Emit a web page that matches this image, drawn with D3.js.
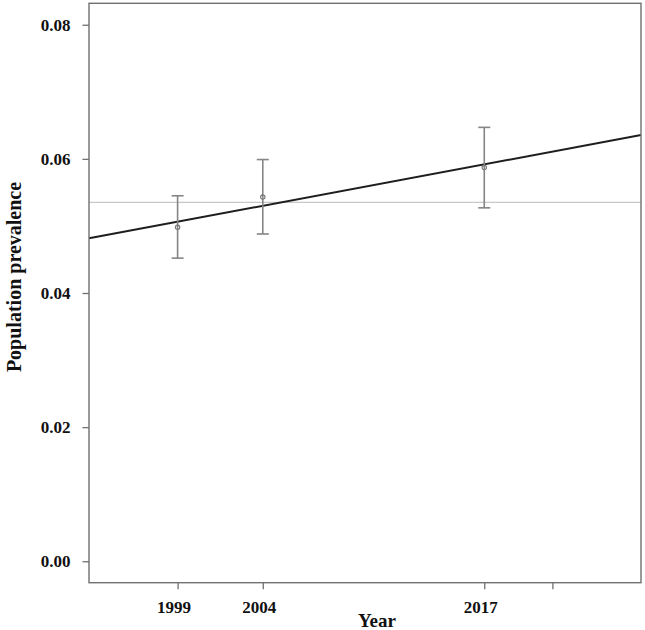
<!DOCTYPE html>
<html>
<head>
<meta charset="utf-8">
<script src="https://cdn.jsdelivr.net/npm/d3@7"></script>
<style>
  html, body { margin: 0; padding: 0; background: #fff; }
  svg { display: block; }
  text { font-family: "Liberation Serif", "Times New Roman", serif; font-weight: bold; fill: #111; }
</style>
</head>
<body>
<svg id="chart" width="645" height="630"></svg>
<script>
// ---- data ----
const years = [1999, 2004, 2017];
const prevalence = [0.0498, 0.0543, 0.0587];
const ciLower = [0.0452, 0.0488, 0.0527];
const ciUpper = [0.0545, 0.0599, 0.0647];
const referenceLevel = 0.0535;
const trendBaseYear = 2000;
const trendBaseValue = 0.0511;
const trendSlope = 0.000475;
const xTicks = [1999, 2004, 2017, 2021];
const xTickLabels = ["1999", "2004", "2017", ""];
const yTicks = [0, 0.02, 0.04, 0.06, 0.08];
const xLimits = [1995, 2025];
const yLimits = [0, 0.08];

(function () {
  // ---- layout ----
  const svg = d3.select("#chart");
  const pLeft = 89, pRight = 641, pTop = 3.3, pBottom = 582.7;
  const expand = (lim) => { const d = (lim[1] - lim[0]) * 0.04; return [lim[0] - d, lim[1] + d]; };

  const x = d3.scaleLinear().domain(expand(xLimits)).range([pLeft, pRight]);
  const y = d3.scaleLinear().domain(expand(yLimits)).range([pBottom, pTop]);

  const frameColor = "#707070";

  // reference line
  svg.append("line")
    .attr("x1", pLeft).attr("x2", pRight)
    .attr("y1", y(referenceLevel)).attr("y2", y(referenceLevel))
    .attr("stroke", "#c8c8c8").attr("stroke-width", 1.2);

  // trend line
  const xd = x.domain();
  svg.append("line")
    .attr("x1", x(xd[0])).attr("x2", x(xd[1]))
    .attr("y1", y(trendBaseValue + trendSlope * (xd[0] - trendBaseYear)))
    .attr("y2", y(trendBaseValue + trendSlope * (xd[1] - trendBaseYear)))
    .attr("stroke", "#1e1e1e").attr("stroke-width", 2);

  // error bars
  const cap = 6;
  const eb = svg.append("g").attr("stroke", "#858585").attr("stroke-width", 1.6).attr("fill", "none");
  years.forEach((yr, i) => {
    const cx = x(yr);
    eb.append("line").attr("x1", cx).attr("x2", cx).attr("y1", y(ciLower[i])).attr("y2", y(ciUpper[i]));
    eb.append("line").attr("x1", cx - cap).attr("x2", cx + cap).attr("y1", y(ciLower[i])).attr("y2", y(ciLower[i]));
    eb.append("line").attr("x1", cx - cap).attr("x2", cx + cap).attr("y1", y(ciUpper[i])).attr("y2", y(ciUpper[i]));
  });

  // points
  svg.append("g").selectAll("circle").data(years).join("circle")
    .attr("cx", d => x(d))
    .attr("cy", (d, i) => y(prevalence[i]))
    .attr("r", 2.2)
    .attr("fill", "none").attr("stroke", "#777").attr("stroke-width", 1.1);

  // frame
  svg.append("rect")
    .attr("x", pLeft).attr("y", pTop)
    .attr("width", pRight - pLeft).attr("height", pBottom - pTop)
    .attr("fill", "none").attr("stroke", frameColor).attr("stroke-width", 1.4);

  // y axis
  const yAxis = svg.append("g").attr("transform", `translate(${pLeft},0)`)
    .call(d3.axisLeft(y).tickValues(yTicks).tickFormat(d3.format(".2f")).tickSize(6.5).tickSizeOuter(0).tickPadding(12));
  yAxis.select(".domain").remove();
  yAxis.selectAll("line").attr("stroke", frameColor).attr("stroke-width", 1.3);
  yAxis.selectAll("text").attr("font-size", 17).attr("font-family", "Liberation Serif, serif").attr("font-weight", "bold").attr("fill", "#111");

  // x axis
  const xAxis = svg.append("g").attr("transform", `translate(0,${pBottom})`)
    .call(d3.axisBottom(x).tickValues(xTicks).tickFormat((d, i) => xTickLabels[i]).tickSize(6.5).tickSizeOuter(0).tickPadding(12));
  xAxis.select(".domain").remove();
  xAxis.selectAll("line").attr("stroke", frameColor).attr("stroke-width", 1.3);
  xAxis.selectAll("text").attr("font-size", 17).attr("font-family", "Liberation Serif, serif").attr("font-weight", "bold").attr("fill", "#111").attr("dx", -4);

  // axis titles
  svg.append("text")
    .attr("x", 377).attr("y", 627)
    .attr("text-anchor", "middle").attr("font-size", 19)
    .text("Year");

  svg.append("text")
    .attr("transform", "translate(21,277) rotate(-90)")
    .attr("text-anchor", "middle").attr("font-size", 20)
    .text("Population prevalence");
})();
</script>
</body>
</html>
